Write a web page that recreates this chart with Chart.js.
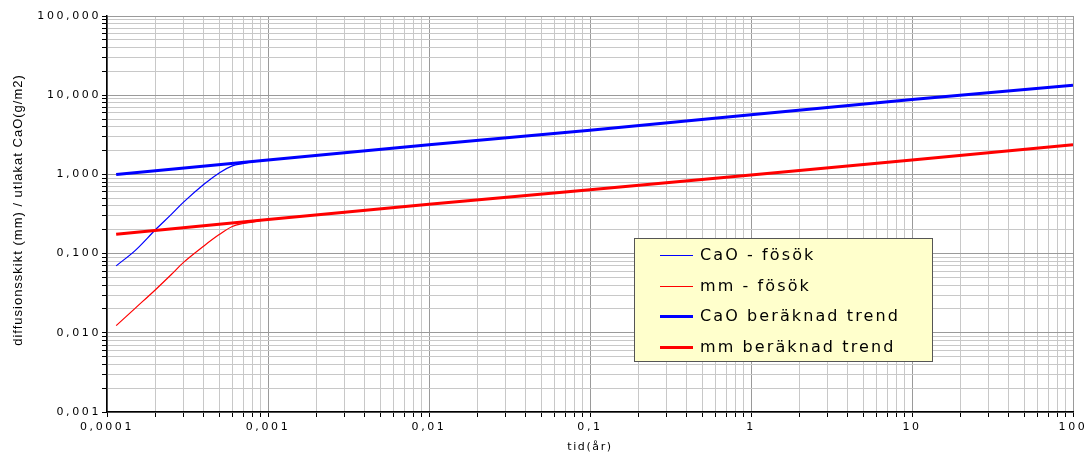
<!DOCTYPE html>
<html>
<head>
<meta charset="utf-8">
<script src="https://cdn.jsdelivr.net/npm/chart.js@4"></script>
<style>body{margin:0;background:#fff}</style>
</head>
<body>
<canvas id="c" width="1090" height="460"></canvas>
<script>
// tid (år) for försöksdata och trender
const testTime = [0.000114, 0.00015, 0.0002, 0.00025, 0.0003, 0.0004, 0.0005, 0.0006, 0.0007, 0.0008, 0.001, 0.002, 0.003];
const caoTest = [0.07, 0.11, 0.2, 0.31, 0.45, 0.75, 1.05, 1.28, 1.37, 1.44, 1.52, 1.74, 1.87];
const mmTest = [0.0123, 0.0205, 0.035, 0.054, 0.078, 0.125, 0.175, 0.22, 0.24, 0.25, 0.27, 0.31, 0.33];

const trendTime = [0.000114, 0.001, 0.01, 0.1, 1, 10, 100];
const caoTrend = [1.0, 1.52, 2.36, 3.62, 5.65, 8.8, 13.4];
const mmTrend = [0.175, 0.27, 0.42, 0.64, 0.98, 1.52, 2.36];

const seriesNames = ["CaO - fösök", "mm - fösök", "CaO beräknad trend", "mm beräknad trend"];
const seriesColors = ["#0000ff", "#ff0000", "#0000ff", "#ff0000"];
const seriesWidths = [1.2, 1.2, 3, 3];
const xTitle = "tid(år)";
const yTitle = "diffusionsskikt (mm) / utlakat CaO(g/m2)";

const xRange = [-4, 2];   // 0,0001 .. 100
const yRange = [-3, 2];   // 0,001 .. 100,000

function pts(xs, ys) {
  return xs.map((x, i) => ({ x: x, y: ys[i] }));
}

function logTicks(r) {
  const t = [];
  for (let e = r[0]; e < r[1]; e++) {
    for (let s = 1; s <= 9; s++) t.push({ value: parseFloat(s + "e" + e), major: s === 1 });
  }
  t.push({ value: parseFloat("1e" + r[1]), major: true });
  return t;
}

const gridOpts = {
  color: c => (c.tick && c.tick.major ? "#9a9a9a" : "#c8c8c8"),
  lineWidth: 1,
  tickColor: "#000",
  tickLength: 5,
};
const tickFont = { family: "DejaVu Sans", size: 11 };

const overlay = {
  id: "overlay",
  beforeDraw(chart) {
    chart.ctx.letterSpacing = "2.6px";
  },
  afterDraw(chart) {
    const ctx = chart.ctx;
    const a = chart.chartArea;
    ctx.save();
    ctx.fillStyle = "#000";

    // axis titles
    ctx.letterSpacing = "1.6px";
    ctx.font = "11px 'DejaVu Sans'";
    ctx.textAlign = "center";
    ctx.textBaseline = "middle";
    ctx.fillText(xTitle, (a.left + a.right) / 2, 447);

    ctx.letterSpacing = "1px";
    ctx.font = "13px 'Liberation Sans'";
    ctx.translate(18, (a.top + a.bottom) / 2 - 4);
    ctx.rotate(-Math.PI / 2);
    ctx.fillText(yTitle, 0, 0);
    ctx.setTransform(1, 0, 0, 1, 0, 0);

    // legend box
    const bx = 634, by = 238, bw = 298, bh = 123;
    ctx.fillStyle = "#ffffcc";
    ctx.fillRect(bx, by, bw, bh);
    ctx.strokeStyle = "#555";
    ctx.lineWidth = 1;
    ctx.strokeRect(bx + 0.5, by + 0.5, bw, bh);

    ctx.letterSpacing = "2.1px";
    ctx.font = "16px 'DejaVu Sans'";
    ctx.textAlign = "left";
    seriesNames.forEach((name, i) => {
      const y = Math.round(by + 17 + i * 30.5);
      ctx.strokeStyle = seriesColors[i];
      ctx.lineWidth = seriesWidths[i] < 2 ? 1 : 3;
      ctx.beginPath();
      ctx.moveTo(bx + 26, y + 0.5);
      ctx.lineTo(bx + 59, y + 0.5);
      ctx.stroke();
      ctx.fillStyle = "#000";
      ctx.fillText(name, bx + 66, y + 1);
    });
    ctx.restore();
    ctx.letterSpacing = "0px";
  },
};

const seriesData = [pts(testTime, caoTest), pts(testTime, mmTest), pts(trendTime, caoTrend), pts(trendTime, mmTrend)];

new Chart(document.getElementById("c"), {
  type: "line",
  data: {
    datasets: seriesNames.map((name, i) => ({
      label: name,
      data: seriesData[i],
      borderColor: seriesColors[i],
      borderWidth: seriesWidths[i],
      order: i < 2 ? 1 : 0,
      tension: i < 2 ? 0.35 : 0,
    })),
  },
  options: {
    responsive: false,
    animation: false,
    devicePixelRatio: 1,
    layout: { padding: { top: 16, right: 17, left: 0, bottom: 0 } },
    elements: {
      point: { radius: 0 },
      line: { fill: false },
    },
    plugins: { legend: { display: false }, tooltip: { enabled: false } },
    scales: {
      x: {
        type: "logarithmic",
        min: 1e-4,
        max: 100,
        afterBuildTicks: s => { s.ticks = logTicks(xRange); },
        afterFit: s => { s.height = 48; },
        grid: gridOpts,
        border: { color: "#000", width: 1.5 },
        ticks: {
          autoSkip: false,
          maxRotation: 0,
          padding: 4,
          color: "#000",
          font: tickFont,
          callback: (v, i, t) => (t[i].major ? String(v).replace(".", ",") : ""),
        },
      },
      y: {
        type: "logarithmic",
        min: 1e-3,
        max: 100,
        afterBuildTicks: s => { s.ticks = logTicks(yRange); },
        afterFit: s => { s.width = 107; },
        grid: gridOpts,
        border: { color: "#000", width: 1.5 },
        ticks: {
          autoSkip: false,
          padding: 1,
          color: "#000",
          font: tickFont,
          callback: (v, i, t) => (t[i].major ? v.toFixed(3).replace(".", ",") : ""),
        },
      },
    },
  },
  plugins: [overlay],
});
</script>
</body>
</html>
